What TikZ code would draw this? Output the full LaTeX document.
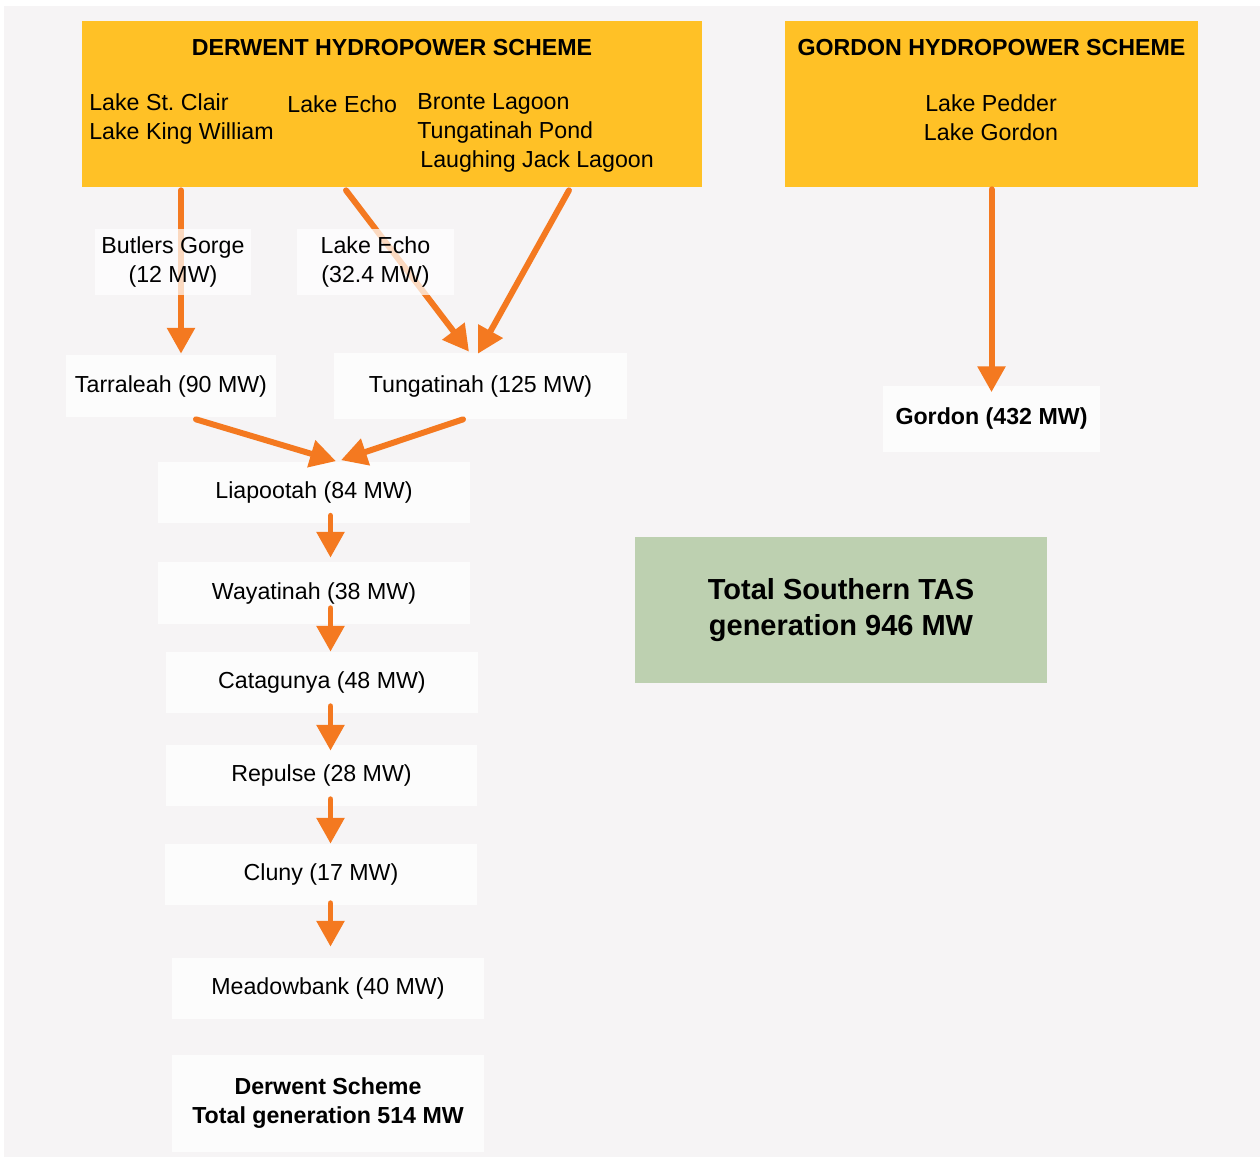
\documentclass[tikz,border=0pt]{standalone}
\usepackage{fontspec}
\setmainfont{Liberation Sans}
\usetikzlibrary{positioning,arrows.meta}
\definecolor{schemeyellow}{RGB}{255,193,38}
\definecolor{flowcol}{RGB}{244,121,32}
\definecolor{totalgreen}{RGB}{189,208,176}
\definecolor{pagegrey}{RGB}{246,244,245}
\definecolor{stationfill}{RGB}{252,252,252}
\frenchspacing
\newcommand{\hydrotext}{\fontsize{13.2}{16.3}\selectfont}
\newcommand{\hydrobig}{\fontsize{16.5}{20.2}\selectfont\bfseries}
\tikzset{
scheme/.style={
  fill=schemeyellow,
  minimum height=3.32cm,
  inner sep=0pt
  },
schemetitle/.style={
  font=\hydrotext\bfseries,
  inner sep=0pt
  },
lakes/.style={
  font=\hydrotext,
  align=left,
  inner sep=0pt
  },
station/.style={
  fill=stationfill,
  font=\hydrotext,
  minimum width=6.24cm,
  minimum height=1.22cm,
  inner sep=0pt
  },
sidestation/.style={
  fill=white,
  fill opacity=0.72,
  text opacity=1,
  font=\hydrotext,
  align=center,
  minimum width=3.12cm,
  minimum height=1.32cm,
  inner sep=0pt
  },
grandtotal/.style={
  fill=totalgreen,
  font=\hydrobig,
  align=center,
  minimum width=8.24cm,
  minimum height=2.92cm,
  inner sep=0pt
  },
flowline/.style={
  draw=flowcol,
  line width=3.4pt,
  line cap=round,
  -{Triangle[width=15.3pt,length=14.7pt]}
  }
}

\begin{document}
\begin{tikzpicture}[x=0.02cm,y=-0.02cm]
\useasboundingbox (0,0) rectangle (1260,1157);
\fill[pagegrey] (4,6) rectangle (1260,1157);

\node[scheme,minimum width=12.4cm] (derwent) at (392,104) {};
\node[scheme,minimum width=8.26cm] (gordon) at (991.5,104) {};
\node[schemetitle] (derwenttitle) at (392,48) {DERWENT HYDROPOWER SCHEME};
\node[schemetitle] (gordontitle) at (991.5,48) {GORDON HYDROPOWER SCHEME};
\node[lakes,anchor=west] (stclair) at (89,119) {Lake St. Clair\\Lake King William};
\node[lakes,anchor=west] (echolake) at (287,104) {Lake Echo};
\node[lakes,anchor=west] (bronte) at (417,133) {Bronte Lagoon\\Tungatinah Pond\\\hspace{0.06cm}Laughing Jack Lagoon};
\node[lakes,align=center] (pedder) at (991,118) {Lake Pedder\\Lake Gordon};

\node[station,minimum width=4.2cm,minimum height=1.24cm] (tarraleah) at (171,386) {Tarraleah (90 MW)};
\node[station,minimum width=5.86cm,minimum height=1.32cm] (tungatinah) at (480.5,386) {Tungatinah (125 MW)};
\node[station,minimum width=4.36cm,minimum height=1.32cm,font=\hydrotext\bfseries] (gordonps) at (991.5,418.5) {Gordon (432 MW)};
\node[station] (liapootah) at (314,492) {Liapootah (84 MW)};
\node[station,minimum height=1.24cm] (wayatinah) at (314,593) {Wayatinah (38 MW)};
\node[station] (catagunya) at (322,682.5) {Catagunya (48 MW)};
\node[station] (repulse) at (321.5,775.5) {Repulse (28 MW)};
\node[station] (cluny) at (321,874.5) {Cluny (17 MW)};
\node[station] (meadowbank) at (328,988.5) {Meadowbank (40 MW)};
\node[station,minimum height=1.94cm,font=\hydrotext\bfseries,align=center] (derwenttotal) at (328,1103) {Derwent Scheme\\Total generation 514 MW};
\node[grandtotal] (southtotal) at (841,610) {Total Southern TAS\\generation 946 MW};

\coordinate (spine) at (330.5,0);
\draw[flowline] ([xshift=.2cm,yshift=-.06cm]tarraleah.north |- derwent.south) -- ([xshift=.2cm,yshift=.02cm]tarraleah.north);
\draw[flowline] ([xshift=-.92cm,yshift=-.06cm]derwent.south) -- ([xshift=-.23cm,yshift=.02cm]tungatinah.north);
\draw[flowline] ([xshift=3.54cm,yshift=-.06cm]derwent.south) -- ([xshift=-.05cm,yshift=-.02cm]tungatinah.north);
\draw[flowline] ([xshift=.5cm,yshift=-.04cm]tarraleah.south) -- ([xshift=.44cm]liapootah.north);
\draw[flowline] ([xshift=-.35cm]tungatinah.south) -- ([xshift=.54cm,yshift=.02cm]liapootah.north);
\draw[flowline] ([yshift=-.04cm]gordon.south) -- ([yshift=-.14cm]gordonps.north);
\draw[flowline] ([yshift=.14cm]liapootah.south -| spine) -- ([yshift=.08cm]wayatinah.north -| spine);
\draw[flowline] ([yshift=.32cm]wayatinah.south -| spine) -- (catagunya.north -| spine);
\draw[flowline] ([yshift=.14cm]catagunya.south -| spine) -- ([yshift=-.12cm]repulse.north -| spine);
\draw[flowline] ([yshift=.14cm]repulse.south -| spine) -- (cluny.north -| spine);
\draw[flowline] ([yshift=.04cm]cluny.south -| spine) -- ([yshift=.22cm]meadowbank.north -| spine);

\node[sidestation] (butlers) at (173,262) {Butlers Gorge\\(12 MW)};
\node[sidestation,minimum width=3.14cm] (lakeecho) at (375.5,262) {Lake Echo\\(32.4 MW)};
\end{tikzpicture}
\end{document}
